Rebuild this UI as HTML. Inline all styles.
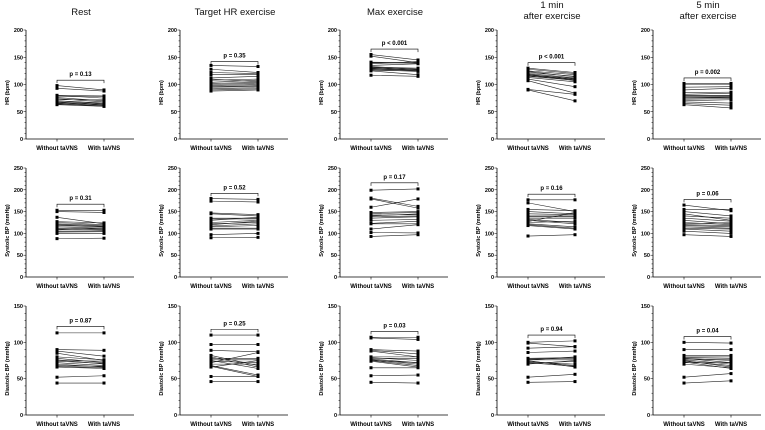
<!DOCTYPE html>
<html><head><meta charset="utf-8"><style>
html,body{margin:0;padding:0;background:#fff;}
svg{display:block;font-family:"Liberation Sans",Arial,sans-serif;}
</style></head><body>
<svg id="fig" width="765" height="430" viewBox="0 0 765 430" xmlns="http://www.w3.org/2000/svg"></svg>
<script>
const conditions = ["Rest","Target HR exercise","Max exercise","1 min|after exercise","5 min|after exercise"];
const measures = ["HR (bpm)","Systolic BP (mmHg)","Diastolic BP (mmHg)"];
const yMaxes = [200,250,150];
const categories = ["Without taVNS","With taVNS"];
const pLabels = [
 ["p = 0.13","p = 0.35","p < 0.001","p < 0.001","p = 0.002"],
 ["p = 0.31","p = 0.52","p = 0.17","p = 0.16","p = 0.06"],
 ["p = 0.87","p = 0.25","p = 0.03","p = 0.94","p = 0.04"]];
const bracketLevels = [[108,142,165,140,112],[167,192,216,190,178],[122,118,115,110,108]];
const hrWithout = [
 [98,93,80,78,76,74,72,70,70,68,67,66,65,64,63,80],
 [135,128,122,118,112,108,104,102,100,98,96,95,92,90,88,110],
 [155,152,141,140,133,131,130,128,126,125,117,138,135,132,129,127],
 [130,128,125,122,120,118,117,116,115,113,110,107,91,90,124,119],
 [102,100,95,90,85,80,79,78,76,75,73,70,68,65,63,82]];
const hrWith = [
 [90,88,79,78,70,68,72,65,66,64,63,62,60,61,60,75],
 [133,122,120,118,115,110,108,104,102,100,98,96,94,92,90,105],
 [145,140,140,139,128,128,127,126,125,118,115,142,138,130,126,124],
 [122,120,118,115,112,111,110,109,108,105,96,84,82,70,114,107],
 [102,100,96,93,86,80,79,78,77,76,74,72,66,62,57,84]];
const sbpWithout = [
 [153,150,137,125,122,120,118,115,112,110,105,103,100,88,127,108],
 [180,174,147,145,135,133,125,122,117,115,112,110,97,90,130,120],
 [199,181,179,160,148,145,140,138,135,130,123,122,110,102,93,142],
 [177,170,155,150,145,140,138,135,132,130,125,122,120,118,94,127],
 [165,155,145,140,135,130,125,122,120,118,115,112,110,105,97,150]];
const sbpWith = [
 [153,148,122,120,118,116,115,112,110,108,106,104,100,89,124,113],
 [178,172,143,140,135,133,130,125,122,118,112,110,100,91,137,128],
 [202,162,158,179,150,148,145,140,138,132,128,122,120,101,97,143],
 [177,150,152,145,143,140,138,135,125,122,128,115,112,110,97,148],
 [152,155,130,135,128,122,120,125,118,115,112,110,105,100,93,140]];
const dbpWithout = [
 [113,90,88,85,78,76,75,74,72,70,68,67,66,52,44,80],
 [110,97,89,80,78,76,75,74,72,70,68,67,66,53,46,82],
 [107,106,90,89,80,78,77,76,75,74,75,65,54,45,88,79],
 [100,99,92,86,78,77,76,75,74,73,72,70,52,45,76,71],
 [100,90,82,80,79,78,77,76,75,74,73,72,70,52,44,78]];
const dbpWith = [
 [113,89,81,75,72,70,74,71,68,66,67,65,64,54,44,76],
 [110,97,87,66,78,76,64,72,86,70,55,53,75,53,46,68],
 [107,104,88,84,80,78,72,70,68,66,72,65,55,44,80,75],
 [102,94,94,88,79,78,76,66,68,70,67,75,56,46,80,74],
 [99,90,82,80,78,72,76,70,66,68,64,72,65,57,47,75]];

const rowsWithout=[hrWithout,sbpWithout,dbpWithout];
const rowsWith=[hrWith,sbpWith,dbpWith];
const axisXs=[26,180,340,497,653];
const yTops=[30,168,306], yBots=[139,277,415];
const NS="http://www.w3.org/2000/svg";
const svg=document.getElementById('fig');
function mk(tag,attrs,parent){const e=document.createElementNS(NS,tag);for(const k in attrs)e.setAttribute(k,attrs[k]);(parent||svg).appendChild(e);return e;}

conditions.forEach((cond,c)=>{
  const ax=axisXs[c];
  const t=mk('text',{x:ax+55,'text-anchor':'middle','font-size':'9.5',fill:'#111'});
  
  
  const parts=cond.split('|');
  if(parts.length===1){t.setAttribute('y',15);t.textContent=parts[0];}
  else parts.forEach((p,i)=>{const ts=mk('tspan',{x:ax+55,y:i?19:8},t);ts.textContent=p;});
});

measures.forEach((meas,r)=>{
  conditions.forEach((cond,c)=>{
    const ax=axisXs[c], top=yTops[r], bot=yBots[r], ymax=yMaxes[r];
    const g=mk('g',{});
    
    
    const ys=v=>bot-(v/ymax)*(bot-top);
    const xs=i=>ax+31+i*47;
    mk('line',{x1:ax,y1:top,x2:ax,y2:bot,stroke:'#000','stroke-width':0.8},g);
    mk('line',{x1:ax,y1:bot,x2:ax+108,y2:bot,stroke:'#000','stroke-width':0.8},g);
    for(let v=0;v<=ymax;v+=10){
      const major=v%50===0;
      mk('line',{x1:ax-(major?2.5:1.5),y1:ys(v),x2:ax,y2:ys(v),stroke:'#000','stroke-width':0.5},g);
      if(major){const tl=mk('text',{x:ax-3,y:ys(v)+2,'text-anchor':'end','font-size':'5.5','font-weight':'bold'},g);tl.textContent=v;}
    }
    const yt=mk('text',{transform:`translate(${ax-17},${(top+bot)/2+8}) rotate(-90)`,'text-anchor':'middle','font-size':'5.5','font-weight':'bold'},g);
    
    
    yt.textContent=meas;
    categories.forEach((cat,i)=>{
      mk('line',{x1:xs(i),y1:bot,x2:xs(i),y2:bot+2.5,stroke:'#000','stroke-width':0.6},g);
      const xl=mk('text',{x:xs(i),y:bot+11,'text-anchor':'middle','font-size':'6','font-weight':'bold'},g);
      
      
      xl.textContent=cat;
    });
    const a=rowsWithout[r][c], b=rowsWith[r][c];
    a.forEach((v,k)=>{
      const ln=mk('line',{x1:xs(0),y1:ys(v),x2:xs(1),y2:ys(b[k]),stroke:'#222','stroke-width':0.6},g);
      
      
      [[0,v],[1,b[k]]].forEach(([i,val])=>{
        const pt=mk('rect',{x:xs(i)-1.5,y:ys(val)-1.5,width:3,height:3,fill:'#000'},g);
        
        
      });
    });
    const by=ys(bracketLevels[r][c]);
    const br=mk('path',{d:`M${xs(0)},${by+3}V${by}H${xs(1)}V${by+3}`,fill:'none',stroke:'#000','stroke-width':0.6},g);
    
    
    const pt=mk('text',{x:(xs(0)+xs(1))/2,y:by-4,'text-anchor':'middle','font-size':'6','font-weight':'bold'},g);
    
    
    pt.textContent=pLabels[r][c];
  });
});
</script>
</body></html>
